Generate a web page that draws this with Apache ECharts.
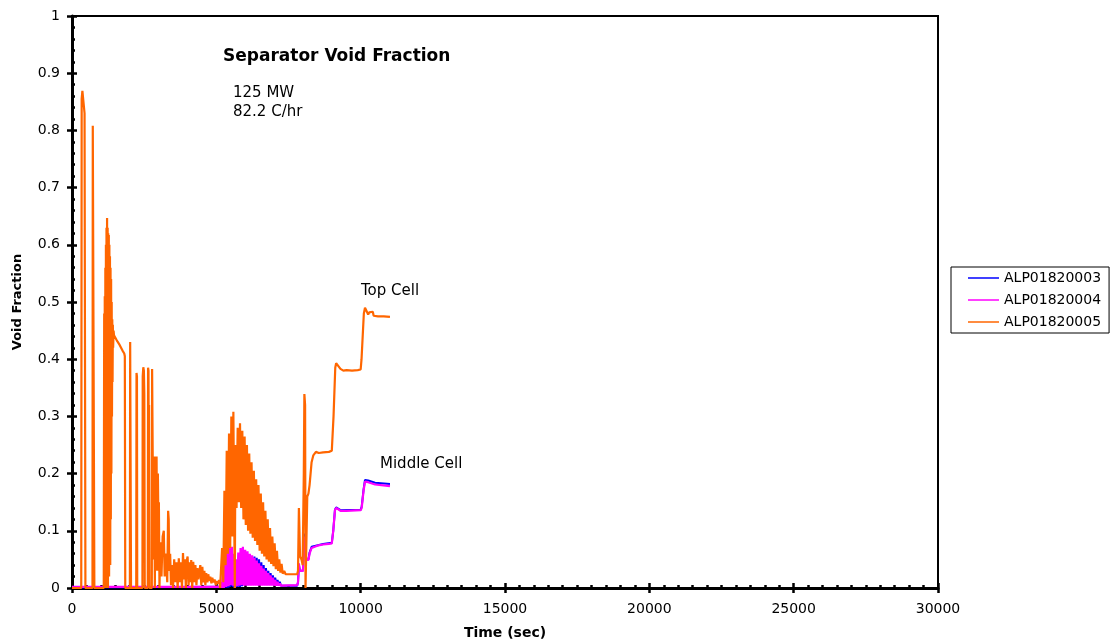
<!DOCTYPE html>
<html>
<head>
<meta charset="utf-8">
<script src="https://cdn.jsdelivr.net/npm/echarts@6/dist/echarts.min.js"></script>
<style>
  html, body { margin: 0; padding: 0; background: #fff; }
  #chart { width: 1116px; height: 641px; }
</style>
</head>
<body>
<div id="chart"></div>
<script>
// Separator void fraction, three cells, [time (s), void fraction]
const seriesNames = ['ALP01820003', 'ALP01820004', 'ALP01820005'];

// bottom cell
const alp01820003 = [
  [0, 0.001], [5400, 0.002], [5500, 0.004], [5540, 0.012], [5580, 0.002], [5620, 0.015],
  [5660, 0.002], [5700, 0.01], [5740, 0.002], [5780, 0.02], [5820, 0.002], [5860, 0.026],
  [5890, 0.003], [5920, 0.03], [5960, 0.005], [6000, 0.022], [6040, 0.005], [6080, 0.03],
  [6120, 0.006], [6160, 0.04], [6200, 0.006], [6240, 0.05], [6280, 0.006], [6320, 0.055],
  [6360, 0.006], [6400, 0.053], [6440, 0.006], [6480, 0.05], [6520, 0.006], [6560, 0.045],
  [6600, 0.006], [6640, 0.04], [6680, 0.006], [6720, 0.035], [6760, 0.006], [6800, 0.03],
  [6840, 0.006], [6880, 0.026], [6920, 0.006], [6960, 0.022], [7000, 0.006], [7040, 0.018],
  [7080, 0.005], [7120, 0.014], [7160, 0.005], [7200, 0.011], [7240, 0.004], [7300, 0.007],
  [7350, 0.004], [7800, 0.004], [7830, 0.01], [7860, 0.04], [7880, 0.035], [7900, 0.03],
  [7950, 0.028], [8000, 0.03], [8050, 0.095], [8080, 0.06], [8120, 0.05], [8190, 0.05],
  [8230, 0.062], [8300, 0.072], [8360, 0.074], [8700, 0.077], [9000, 0.079], [9050, 0.1],
  [9110, 0.137], [9150, 0.141], [9300, 0.136], [10000, 0.137], [10035, 0.142], [10100, 0.172],
  [10150, 0.189], [10200, 0.186], [10260, 0.188], [10300, 0.185], [10500, 0.184], [11015, 0.182]
];

// middle cell
const alp01820004 = [
  [0, 0.002], [5150, 0.002], [5180, 0.01], [5200, 0.0], [5230, 0.045], [5260, 0.0],
  [5300, 0.078], [5340, 0.002], [5380, 0.08], [5420, 0.003], [5460, 0.08], [5500, 0.005],
  [5540, 0.072], [5580, 0.004], [5620, 0.06], [5645, 0.0], [5680, 0.05], [5720, 0.003],
  [5760, 0.062], [5800, 0.004], [5840, 0.07], [5880, 0.005], [5920, 0.072], [5960, 0.004],
  [6000, 0.067], [6040, 0.004], [6080, 0.064], [6120, 0.004], [6160, 0.06], [6200, 0.004],
  [6240, 0.057], [6280, 0.004], [6320, 0.053], [6360, 0.004], [6400, 0.048], [6440, 0.004],
  [6480, 0.043], [6520, 0.004], [6560, 0.039], [6600, 0.004], [6640, 0.034], [6680, 0.004],
  [6720, 0.03], [6760, 0.004], [6800, 0.026], [6840, 0.004], [6880, 0.022], [6920, 0.004],
  [6960, 0.018], [7000, 0.004], [7040, 0.014], [7080, 0.004], [7120, 0.011], [7160, 0.004],
  [7200, 0.008], [7240, 0.004], [7300, 0.005], [7800, 0.005], [7830, 0.01], [7860, 0.043],
  [7880, 0.035], [7900, 0.03], [7950, 0.028], [8000, 0.03], [8050, 0.09], [8080, 0.06],
  [8120, 0.05], [8190, 0.049], [8230, 0.06], [8300, 0.07], [8360, 0.072], [8500, 0.074],
  [8700, 0.076], [8900, 0.077], [9000, 0.078], [9050, 0.1], [9110, 0.136], [9150, 0.14],
  [9200, 0.137], [9300, 0.135], [9500, 0.135], [10000, 0.136], [10035, 0.14], [10100, 0.17],
  [10150, 0.186], [10200, 0.183], [10260, 0.185], [10300, 0.182], [10500, 0.181], [11015, 0.178]
];

// top cell
const alp01820005 = [
  [0, 0], [320, 0], [335, 0.855], [360, 0.869], [420, 0.869], [435, 0.83], [450, 0.83], [465, 0],
  [710, 0], [720, 0.808], [760, 0.808], [775, 0], [1100, 0],
  [1115, 0.48], [1125, 0], [1135, 0.51], [1145, 0], [1155, 0.56], [1165, 0], [1175, 0.6],
  [1185, 0.02], [1195, 0.63], [1205, 0], [1215, 0.647], [1225, 0.03], [1235, 0.63], [1245, 0],
  [1255, 0.62], [1265, 0.05], [1275, 0.617], [1285, 0.02], [1295, 0.6], [1305, 0.08], [1315, 0.58],
  [1325, 0.04], [1335, 0.56], [1345, 0.12], [1355, 0.54], [1365, 0.2], [1375, 0.5], [1385, 0.3],
  [1395, 0.47], [1405, 0.36], [1415, 0.46], [1425, 0.42], [1440, 0.45], [1455, 0.442],
  [1480, 0.44], [1550, 0.433], [1650, 0.425], [1750, 0.415], [1810, 0.41], [1830, 0.405], [1845, 0],
  [2005, 0], [2015, 0.43], [2035, 0.43], [2045, 0],
  [2225, 0], [2235, 0.376], [2250, 0.37], [2260, 0],
  [2440, 0], [2450, 0.37], [2470, 0.386], [2490, 0.38], [2505, 0.34], [2520, 0],
  [2625, 0], [2635, 0.385], [2650, 0.38], [2660, 0.2], [2670, 0.32], [2685, 0],
  [2765, 0], [2775, 0.383], [2790, 0.38], [2800, 0.2], [2815, 0.23], [2835, 0.05], [2850, 0.229],
  [2870, 0.0], [2890, 0.23], [2910, 0.12], [2930, 0.23], [2950, 0.03], [2975, 0.2], [2995, 0.1],
  [3010, 0.15], [3030, 0], [3060, 0.08], [3100, 0.02], [3140, 0.09], [3180, 0.1], [3210, 0.02],
  [3250, 0.06], [3300, 0.01], [3330, 0.135], [3350, 0.12], [3370, 0.03], [3400, 0.06], [3430, 0.005],
  [3470, 0.04], [3500, 0.0], [3540, 0.05], [3580, 0.01], [3620, 0.045], [3660, 0.0], [3700, 0.052],
  [3740, 0.01], [3780, 0.045], [3810, 0.0], [3845, 0.061], [3880, 0.015], [3910, 0.05], [3945, 0.0],
  [3975, 0.048], [4005, 0.055], [4040, 0.005], [4075, 0.045], [4110, 0.01], [4130, 0.049],
  [4165, 0.0], [4200, 0.046], [4240, 0.01], [4275, 0.04], [4310, 0.005], [4345, 0.035],
  [4380, 0.015], [4415, 0.03], [4445, 0.04], [4480, 0.005], [4515, 0.037], [4550, 0.01],
  [4585, 0.03], [4620, 0.005], [4650, 0.026], [4690, 0.01], [4720, 0.024], [4760, 0.012],
  [4790, 0.02], [4830, 0.008], [4860, 0.018], [4900, 0.01], [4940, 0.015], [4980, 0.005],
  [5020, 0.012], [5060, 0.008], [5100, 0.014], [5130, 0.0],
  [5180, 0.0], [5200, 0.07], [5240, 0.01], [5280, 0.17], [5320, 0.04], [5360, 0.24], [5400, 0.06],
  [5440, 0.27], [5480, 0.07], [5520, 0.30], [5560, 0.09], [5590, 0.308], [5620, 0.12], [5640, 0.0],
  [5660, 0.25], [5700, 0.14], [5740, 0.28], [5780, 0.15], [5820, 0.288], [5860, 0.14], [5900, 0.275],
  [5940, 0.12], [5980, 0.265], [6020, 0.11], [6060, 0.25], [6100, 0.10], [6140, 0.235], [6180, 0.095],
  [6220, 0.22], [6260, 0.088], [6300, 0.205], [6340, 0.082], [6380, 0.19], [6420, 0.075], [6460, 0.18],
  [6500, 0.065], [6540, 0.165], [6580, 0.06], [6620, 0.15], [6660, 0.055], [6700, 0.135], [6740, 0.05],
  [6780, 0.12], [6820, 0.046], [6860, 0.105], [6900, 0.042], [6940, 0.09], [6980, 0.038], [7020, 0.078],
  [7060, 0.033], [7100, 0.065], [7140, 0.03], [7180, 0.05], [7220, 0.027], [7260, 0.042], [7300, 0.025],
  [7350, 0.03], [7400, 0.024], [7800, 0.024], [7830, 0.03], [7860, 0.14], [7880, 0.1], [7900, 0.055],
  [7950, 0.05], [7990, 0.04], [8030, 0.2], [8050, 0.339], [8075, 0.32], [8090, 0.0], [8110, 0.0],
  [8150, 0.16], [8190, 0.165], [8230, 0.18], [8300, 0.22], [8360, 0.232], [8450, 0.238], [8550, 0.236],
  [8700, 0.237], [8900, 0.238], [9000, 0.24], [9060, 0.3], [9120, 0.385], [9150, 0.393], [9200, 0.39],
  [9300, 0.383], [9400, 0.38], [9515, 0.381], [9700, 0.38], [9900, 0.381], [10000, 0.382],
  [10030, 0.4], [10110, 0.48], [10150, 0.49], [10200, 0.488], [10260, 0.478], [10300, 0.482],
  [10350, 0.48], [10420, 0.483], [10450, 0.476], [10600, 0.475], [10800, 0.475], [11015, 0.474]
];

const seriesColors = ['#0000ff', '#ff00ff', '#ff6600'];
const xTickLabels = ['0', '5000', '10000', '15000', '20000', '25000', '30000'];
const yTickLabels = ['0', '0.1', '0.2', '0.3', '0.4', '0.5', '0.6', '0.7', '0.8', '0.9', '1'];

const FONT = 'DejaVu Sans';
const chart = echarts.init(document.getElementById('chart'), null, { renderer: 'canvas' });

const xBase = { type: 'value', min: 0, max: 30000, interval: 5000, gridIndex: 0 };
const yBase = { type: 'value', min: 0, max: 1, interval: 0.1, gridIndex: 0 };
const tickStyle = { color: '#000', width: 2.5 };

chart.setOption({
  animation: false,
  backgroundColor: '#fff',
  grid: {
    left: 72, top: 16, width: 866, height: 572,
    outerBoundsMode: 'none', containLabel: false,
    show: true, borderColor: '#000', borderWidth: 2, backgroundColor: 'transparent'
  },
  xAxis: [
    Object.assign({}, xBase, {
      position: 'bottom',
      name: 'Time (sec)', nameLocation: 'middle', nameGap: 38,
      nameTextStyle: { fontFamily: FONT, fontWeight: 'bold', fontSize: 14, color: '#000' },
      axisLine: { show: true, onZero: false, lineStyle: { color: '#000', width: 3 } },
      axisTick: { show: true, inside: true, length: 5, lineStyle: tickStyle },
      minorTick: { show: true, splitNumber: 10, length: 3, lineStyle: { color: '#000', width: 2.5 } },
      axisLabel: {
        margin: 14, fontFamily: FONT, fontSize: 14, color: '#000',
        formatter: v => xTickLabels[Math.round(v / 5000)]
      },
      splitLine: { show: false }
    }),
    Object.assign({}, xBase, {
      position: 'bottom',
      axisLine: { show: false, onZero: false },
      axisTick: { show: true, inside: false, length: 5, lineStyle: tickStyle },
      axisLabel: { show: false },
      splitLine: { show: false }
    })
  ],
  yAxis: [
    Object.assign({}, yBase, {
      position: 'left',
      name: 'Void Fraction', nameLocation: 'middle', nameGap: 48,
      nameTextStyle: { fontFamily: FONT, fontWeight: 'bold', fontSize: 13, color: '#000' },
      axisLine: { show: true, onZero: false, lineStyle: { color: '#000', width: 3 } },
      axisTick: { show: true, inside: true, length: 5, lineStyle: tickStyle },
      minorTick: { show: true, splitNumber: 5, length: 3, lineStyle: { color: '#000', width: 2.5 } },
      axisLabel: {
        margin: 12, fontFamily: FONT, fontSize: 14, color: '#000',
        formatter: v => yTickLabels[Math.round(v * 10)]
      },
      splitLine: { show: false }
    }),
    Object.assign({}, yBase, {
      position: 'left',
      axisLine: { show: false, onZero: false },
      axisTick: { show: true, inside: false, length: 5, lineStyle: tickStyle },
      axisLabel: { show: false },
      splitLine: { show: false }
    })
  ],
  legend: {
    orient: 'vertical', left: 951, top: 267,
    padding: [4, 8, 4, 17], itemGap: 8, itemWidth: 31, itemHeight: 14,
    borderColor: '#000', borderWidth: 1, backgroundColor: '#fff',
    textStyle: { fontFamily: FONT, fontSize: 14, color: '#000', padding: [0, 0, 0, 0] },
    data: seriesNames.map(n => ({ name: n, icon: 'path://M0,0 L31,0 L31,1.5 L0,1.5 Z' }))
  },
  series: [
    {
      name: seriesNames[0], type: 'line', data: alp01820003, showSymbol: false, symbol: 'none',
      lineStyle: { color: seriesColors[0], width: 2 }, itemStyle: { color: seriesColors[0] },
      xAxisIndex: 0, yAxisIndex: 0, z: 3
    },
    {
      name: seriesNames[1], type: 'line', data: alp01820004, showSymbol: false, symbol: 'none',
      lineStyle: { color: seriesColors[1], width: 2.2 }, itemStyle: { color: seriesColors[1] },
      xAxisIndex: 0, yAxisIndex: 0, z: 4
    },
    {
      name: seriesNames[2], type: 'line', data: alp01820005, showSymbol: false, symbol: 'none',
      lineStyle: { color: seriesColors[2], width: 2.2 }, itemStyle: { color: seriesColors[2] },
      xAxisIndex: 0, yAxisIndex: 0, z: 5
    }
  ],
  graphic: [
    { type: 'text', left: 223, top: 48,
      style: { text: 'Separator Void Fraction', font: 'bold 17px "DejaVu Sans"', fill: '#000' } },
    { type: 'text', left: 233, top: 84,
      style: { text: '125 MW\n82.2 C/hr', font: '15px "DejaVu Sans"', fill: '#000', lineHeight: 19 } },
    { type: 'text', left: 361, top: 284,
      style: { text: 'Top Cell', font: '15px "DejaVu Sans"', fill: '#000' } },
    { type: 'text', left: 380, top: 457,
      style: { text: 'Middle Cell', font: '15px "DejaVu Sans"', fill: '#000' } }
  ]
});
</script>
</body>
</html>
